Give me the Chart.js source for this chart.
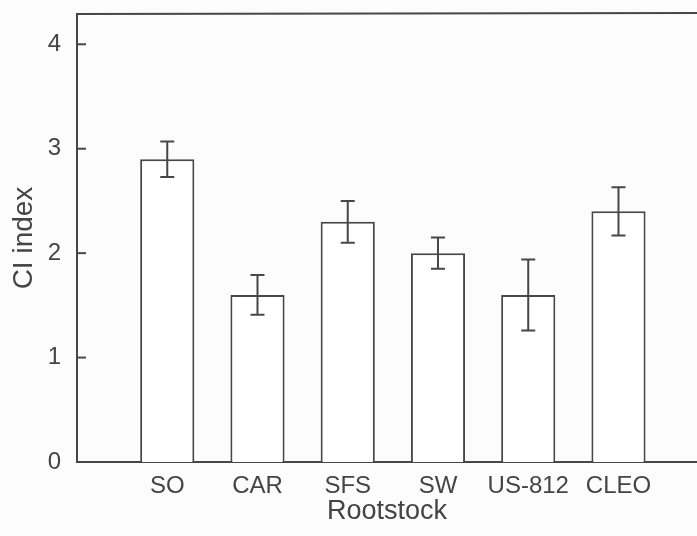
<!DOCTYPE html>
<html>
<head>
<meta charset="utf-8">
<script src="https://cdn.jsdelivr.net/npm/chart.js@4.4.1/dist/chart.umd.min.js"></script>
<style>
  body { margin: 0; background: #fcfcfc; }
  canvas { display: block; }
</style>
</head>
<body>
<canvas id="chart" width="697" height="536"></canvas>
<script>
// rootstocks and CI index means, with the +/- error bar half lengths
const rootstocks = ['SO', 'CAR', 'SFS', 'SW', 'US-812', 'CLEO'];
const ciValues = [2.9, 1.6, 2.3, 2.0, 1.6, 2.4];
const ciErrors = [0.17, 0.19, 0.20, 0.15, 0.34, 0.23];
const yTicks = [0, 1, 2, 3, 4];

const ink = '#474747';
const font = "'Liberation Sans', Arial, sans-serif";

// bars sit on x = 1..6 of a linear axis, so there is an empty slot left of SO
const points = [];
for (let i = 0; i < rootstocks.length; i++) {
  points.push({ x: i + 1, y: ciValues[i] });
}

// error bars, inward y tick marks and the top frame line
const extras = {
  id: 'extras',
  afterDatasetsDraw(chart) {
    const ctx = chart.ctx;
    const xs = chart.scales.x;
    const ys = chart.scales.y;
    const area = chart.chartArea;
    ctx.save();
    ctx.strokeStyle = ink;
    ctx.lineWidth = 2;
    for (let i = 0; i < ciValues.length; i++) {
      const x = xs.getPixelForValue(i + 1);
      const top = ys.getPixelForValue(ciValues[i] + ciErrors[i]);
      const bot = ys.getPixelForValue(ciValues[i] - ciErrors[i]);
      ctx.beginPath();
      ctx.moveTo(x, top); ctx.lineTo(x, bot);
      ctx.moveTo(x - 7, top); ctx.lineTo(x + 7, top);
      ctx.moveTo(x - 7, bot); ctx.lineTo(x + 7, bot);
      ctx.stroke();
    }
    for (const t of yTicks) {
      const y = ys.getPixelForValue(t);
      ctx.beginPath();
      ctx.moveTo(area.left, y); ctx.lineTo(area.left + 9, y);
      ctx.stroke();
    }
    ctx.beginPath();
    ctx.moveTo(area.left - 1, area.top);
    ctx.lineTo(area.right, area.top - 1);
    ctx.stroke();
    ctx.restore();
  }
};

new Chart(document.getElementById('chart'), {
  type: 'bar',
  data: {
    datasets: [{
      data: points,
      backgroundColor: '#ffffff',
      borderColor: ink,
      borderWidth: 2,
      barPercentage: 0.6,
      categoryPercentage: 1
    }]
  },
  options: {
    responsive: false,
    animation: false,
    layout: { padding: { left: 0, right: 0, top: 14, bottom: 0 } },
    plugins: { legend: { display: false }, tooltip: { enabled: false } },
    scales: {
      x: {
        type: 'linear',
        offset: false,
        min: 0,
        max: 6.87,
        grid: { display: false, drawTicks: false },
        border: { display: true, color: ink, width: 2 },
        ticks: {
          stepSize: 1,
          includeBounds: false,
          autoSkip: false,
          maxRotation: 0,
          padding: 10,
          color: '#444',
          font: { family: font, size: 24 },
          callback: v => (Number.isInteger(v) && v >= 1 && v <= rootstocks.length) ? rootstocks[v - 1] : ''
        },
        title: {
          display: true,
          text: 'Rootstock',
          color: '#444',
          font: { family: font, size: 27 },
          padding: { top: 0, bottom: 8 }
        },
        afterFit(scale) {
          scale.height = 74;
          scale.paddingLeft = 0;
          scale.paddingRight = 0;
        }
      },
      y: {
        min: 0,
        max: 4.29,
        grid: { display: false, drawTicks: false },
        border: { display: true, color: ink, width: 2 },
        ticks: {
          stepSize: 1,
          includeBounds: false,
          padding: 16,
          color: '#444',
          font: { family: font, size: 24 },
          callback: v => yTicks.includes(v) ? String(v) : ''
        },
        title: {
          display: true,
          text: 'CI index',
          color: '#444',
          font: { family: font, size: 28 },
          padding: { top: 7, bottom: 0 }
        },
        afterFit(scale) {
          scale.width = 77;
          scale.paddingTop = 0;
          scale.paddingBottom = 0;
        }
      }
    }
  },
  plugins: [extras]
});
</script>
</body>
</html>
